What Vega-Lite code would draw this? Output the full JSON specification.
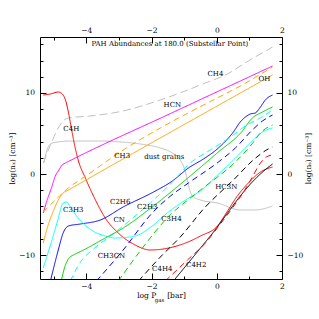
{
  "$schema": "https://vega.github.io/schema/vega-lite/v6.json",
  "autosize": {"type": "none"},
  "width": 242,
  "height": 242,
  "padding": {"left": 40, "top": 37, "right": 37, "bottom": 40},
  "background": "white",
  "config": {
    "view": {"stroke": "black", "strokeWidth": 1},
    "axis": {"domain": false, "grid": false, "tickColor": "black", "tickWidth": 1, "labelColor": "black", "labelFont": "DejaVu Serif", "labelFontSize": 7.5, "titleFont": "DejaVu Serif", "titleFontSize": 7.5, "titleFontWeight": "normal", "titleColor": "black", "labelFlush": false, "labelOverlap": false},
    "text": {"font": "DejaVu Serif", "fontSize": 7, "color": "black"}
  },
  "datasets": {
    "lines": [
      {"s":"CH4","x":-5.32,"y":1.36},{"s":"CH4","x":-5.1,"y":3.58},{"s":"CH4","x":-4.86,"y":5.68},{"s":"CH4","x":-4.71,"y":6.54},{"s":"CH4","x":-4.55,"y":6.91},{"s":"CH4","x":-3.88,"y":7.16},{"s":"CH4","x":-2.87,"y":7.78},{"s":"CH4","x":-1.73,"y":9.14},{"s":"CH4","x":-0.35,"y":11.23},{"s":"CH4","x":0.33,"y":12.35},{"s":"CH4","x":0.82,"y":13.58},{"s":"CH4","x":1.12,"y":14.32},{"s":"CH4","x":1.4,"y":14.94},{"s":"CH4","x":1.71,"y":15.68},
      {"s":"dust grains","x":-5.3,"y":1.36},{"s":"dust grains","x":-5.17,"y":3.33},{"s":"dust grains","x":-5.04,"y":3.83},{"s":"dust grains","x":-4.49,"y":4.07},{"s":"dust grains","x":-3.57,"y":4.07},{"s":"dust grains","x":-2.93,"y":3.95},{"s":"dust grains","x":-2.34,"y":3.7},{"s":"dust grains","x":-1.73,"y":3.21},{"s":"dust grains","x":-1.36,"y":2.59},{"s":"dust grains","x":-1.12,"y":1.73},{"s":"dust grains","x":-0.96,"y":0.25},{"s":"dust grains","x":-0.87,"y":-1.36},{"s":"dust grains","x":-0.75,"y":-2.72},{"s":"dust grains","x":-0.5,"y":-3.21},{"s":"dust grains","x":0.02,"y":-3.58},{"s":"dust grains","x":0.72,"y":-4.44},{"s":"dust grains","x":1.18,"y":-4.44},{"s":"dust grains","x":1.71,"y":-3.95},
      {"s":"C4H","x":-5.32,"y":9.75},{"s":"C4H","x":-5.1,"y":9.88},{"s":"C4H","x":-4.86,"y":10.12},{"s":"C4H","x":-4.74,"y":9.88},{"s":"C4H","x":-4.64,"y":9.14},{"s":"C4H","x":-4.55,"y":7.65},{"s":"C4H","x":-4.46,"y":5.68},{"s":"C4H","x":-4.34,"y":3.21},{"s":"C4H","x":-4.25,"y":1.73},{"s":"C4H","x":-4.03,"y":-0.49},{"s":"C4H","x":-3.72,"y":-3.21},{"s":"C4H","x":-3.42,"y":-5.43},{"s":"C4H","x":-3.02,"y":-7.28},{"s":"C4H","x":-2.5,"y":-8.77},{"s":"C4H","x":-2.04,"y":-9.38},{"s":"C4H","x":-1.48,"y":-9.14},{"s":"C4H","x":-0.81,"y":-8.27},{"s":"C4H","x":-0.5,"y":-7.65},{"s":"C4H","x":0.02,"y":-6.42},{"s":"C4H","x":0.33,"y":-4.57},{"s":"C4H","x":0.63,"y":-2.72},{"s":"C4H","x":1.03,"y":-0.86},{"s":"C4H","x":1.34,"y":0.25},{"s":"C4H","x":1.71,"y":0.86},
      {"s":"HCN","x":-5.32,"y":-4.81},{"s":"HCN","x":-5.2,"y":-3.21},{"s":"HCN","x":-5.07,"y":-1.73},{"s":"HCN","x":-4.95,"y":-0.25},{"s":"HCN","x":-4.86,"y":0.37},{"s":"HCN","x":-4.74,"y":1.11},{"s":"HCN","x":-4.64,"y":1.36},{"s":"HCN","x":-4.46,"y":1.73},{"s":"HCN","x":-1.4,"y":7.5},{"s":"HCN","x":1.71,"y":13.33},
      {"s":"CH3","x":-5.32,"y":-8.52},{"s":"CH3","x":-5.17,"y":-6.3},{"s":"CH3","x":-5.01,"y":-4.57},{"s":"CH3","x":-4.86,"y":-3.21},{"s":"CH3","x":-4.71,"y":-2.35},{"s":"CH3","x":-4.55,"y":-1.98},{"s":"CH3","x":-1.4,"y":5.2},{"s":"CH3","x":1.71,"y":12.22},
      {"s":"OH","x":-5.32,"y":-4.69},{"s":"OH","x":-4.95,"y":-3.21},{"s":"OH","x":-4.55,"y":-1.73},{"s":"OH","x":-3.97,"y":-0.12},{"s":"OH","x":-2.96,"y":2.72},{"s":"OH","x":-1.73,"y":5.68},{"s":"OH","x":-0.35,"y":8.64},{"s":"OH","x":0.72,"y":10.86},{"s":"OH","x":1.71,"y":13.21},
      {"s":"C2H6","x":-5.1,"y":-13.21},{"s":"C2H6","x":-4.86,"y":-9.38},{"s":"C2H6","x":-4.71,"y":-7.28},{"s":"C2H6","x":-4.55,"y":-6.42},{"s":"C2H6","x":-4.18,"y":-6.17},{"s":"C2H6","x":-3.57,"y":-5.68},{"s":"C2H6","x":-2.87,"y":-4.07},{"s":"C2H6","x":-1.94,"y":-2.22},{"s":"C2H6","x":-1.36,"y":-0.86},{"s":"C2H6","x":-0.87,"y":0.74},{"s":"C2H6","x":-0.41,"y":1.85},{"s":"C2H6","x":0.05,"y":3.21},{"s":"C2H6","x":0.51,"y":5.19},{"s":"C2H6","x":0.72,"y":6.42},{"s":"C2H6","x":0.88,"y":7.04},{"s":"C2H6","x":1.03,"y":7.41},{"s":"C2H6","x":1.18,"y":7.53},{"s":"C2H6","x":1.34,"y":8.27},{"s":"C2H6","x":1.49,"y":9.14},{"s":"C2H6","x":1.71,"y":9.75},
      {"s":"CH3CN","x":-3.69,"y":-13.21},{"s":"CH3CN","x":-2.87,"y":-9.38},{"s":"CH3CN","x":-1.98,"y":-4.81},{"s":"CH3CN","x":-1.42,"y":-2.72},{"s":"CH3CN","x":-0.87,"y":-1.11},{"s":"CH3CN","x":0.05,"y":1.48},{"s":"CH3CN","x":0.57,"y":3.21},{"s":"CH3CN","x":1.09,"y":5.43},{"s":"CH3CN","x":1.4,"y":6.54},{"s":"CH3CN","x":1.71,"y":7.28},
      {"s":"C3H3","x":-5.32,"y":-11.6},{"s":"C3H3","x":-5.1,"y":-8.77},{"s":"C3H3","x":-4.89,"y":-5.93},{"s":"C3H3","x":-4.71,"y":-3.58},{"s":"C3H3","x":-4.61,"y":-3.46},{"s":"C3H3","x":-4.49,"y":-4.07},{"s":"C3H3","x":-4.25,"y":-5.43},{"s":"C3H3","x":-3.85,"y":-6.91},{"s":"C3H3","x":-3.42,"y":-7.65},{"s":"C3H3","x":-3.11,"y":-7.9},{"s":"C3H3","x":-2.5,"y":-7.65},{"s":"C3H3","x":-1.98,"y":-6.42},{"s":"C3H3","x":-1.48,"y":-4.69},{"s":"C3H3","x":-0.81,"y":-2.84},{"s":"C3H3","x":-0.5,"y":-2.1},{"s":"C3H3","x":-0.04,"y":-0.37},{"s":"C3H3","x":0.51,"y":1.73},{"s":"C3H3","x":1.03,"y":3.83},{"s":"C3H3","x":1.4,"y":5.19},{"s":"C3H3","x":1.71,"y":5.68},
      {"s":"CN","x":-4.49,"y":-13.21},{"s":"CN","x":-4.18,"y":-10.86},{"s":"CN","x":-3.82,"y":-9.38},{"s":"CN","x":-3.26,"y":-7.65},{"s":"CN","x":-2.65,"y":-5.68},{"s":"CN","x":-2.04,"y":-3.58},{"s":"CN","x":-1.42,"y":-1.23},{"s":"CN","x":-0.81,"y":1.36},{"s":"CN","x":-0.2,"y":2.96},{"s":"CN","x":0.42,"y":4.57},{"s":"CN","x":0.88,"y":5.93},{"s":"CN","x":1.28,"y":6.79},{"s":"CN","x":1.71,"y":7.9},
      {"s":"C2H3","x":-4.77,"y":-13.21},{"s":"C2H3","x":-4.64,"y":-11.23},{"s":"C2H3","x":-4.55,"y":-10.49},{"s":"C2H3","x":-4.34,"y":-9.88},{"s":"C2H3","x":-4.15,"y":-9.51},{"s":"C2H3","x":-3.42,"y":-7.9},{"s":"C2H3","x":-2.87,"y":-6.67},{"s":"C2H3","x":-1.98,"y":-4.07},{"s":"C2H3","x":-0.96,"y":-0.74},{"s":"C2H3","x":0.05,"y":2.72},{"s":"C2H3","x":0.76,"y":5.19},{"s":"C2H3","x":1.09,"y":6.91},{"s":"C2H3","x":1.4,"y":7.65},{"s":"C2H3","x":1.71,"y":8.27},
      {"s":"C3H4","x":-3.02,"y":-13.21},{"s":"C3H4","x":-2.28,"y":-9.14},{"s":"C3H4","x":-1.58,"y":-5.68},{"s":"C3H4","x":-0.5,"y":-1.98},{"s":"C3H4","x":0.57,"y":1.48},{"s":"C3H4","x":1.03,"y":3.46},{"s":"C3H4","x":1.4,"y":5.31},{"s":"C3H4","x":1.71,"y":6.05},
      {"s":"C4H4","x":-2.4,"y":-13.21},{"s":"C4H4","x":-1.73,"y":-10.25},{"s":"C4H4","x":-1.12,"y":-7.78},{"s":"C4H4","x":-0.35,"y":-4.07},{"s":"C4H4","x":0.02,"y":-2.59},{"s":"C4H4","x":0.51,"y":-0.74},{"s":"C4H4","x":1.12,"y":1.73},{"s":"C4H4","x":1.58,"y":3.09},{"s":"C4H4","x":1.71,"y":3.33},
      {"s":"C4H2","x":-1.33,"y":-13.21},{"s":"C4H2","x":-0.5,"y":-9.14},{"s":"C4H2","x":-0.1,"y":-7.16},{"s":"C4H2","x":0.33,"y":-4.81},{"s":"C4H2","x":0.72,"y":-2.72},{"s":"C4H2","x":1.12,"y":-0.86},{"s":"C4H2","x":1.55,"y":0.74},{"s":"C4H2","x":1.71,"y":1.23},
      {"s":"HC3N","x":-1.58,"y":-13.21},{"s":"HC3N","x":-0.9,"y":-10.62},{"s":"HC3N","x":-0.35,"y":-8.52},{"s":"HC3N","x":0.11,"y":-6.17},{"s":"HC3N","x":0.48,"y":-4.2},{"s":"HC3N","x":0.82,"y":-2.22},{"s":"HC3N","x":1.09,"y":-0.37},{"s":"HC3N","x":1.34,"y":1.36},{"s":"HC3N","x":1.52,"y":2.1},{"s":"HC3N","x":1.71,"y":2.35}
    ],
    "labels": [
      {"t":"PAH Abundances at 180.0 (Substellar Point)","x":-1.44,"y":16.1},
      {"t":"CH4","x":-0.04,"y":12.35},
      {"t":"OH","x":1.46,"y":11.73},
      {"t":"HCN","x":-1.36,"y":8.52},
      {"t":"C4H","x":-4.46,"y":5.56},
      {"t":"CH3","x":-2.9,"y":2.22},
      {"t":"dust grains","x":-1.61,"y":2.1},
      {"t":"C3H3","x":-4.4,"y":-4.44},
      {"t":"C2H6","x":-2.96,"y":-3.46},
      {"t":"CN","x":-2.99,"y":-5.68},
      {"t":"C2H3","x":-2.13,"y":-4.07},
      {"t":"C3H4","x":-1.39,"y":-5.56},
      {"t":"CH3CN","x":-3.23,"y":-10.12},
      {"t":"C4H4","x":-1.67,"y":-11.73},
      {"t":"C4H2","x":-0.63,"y":-11.23},
      {"t":"HC3N","x":0.29,"y":-1.6}
    ],
    "xt": [
      {"t":"log P","x":-2.44,"y":-15.06,"r":"main"},
      {"t":"gas","x":-1.9,"y":-15.5,"r":"sub"},
      {"t":"[bar]","x":-1.52,"y":-15.06,"r":"main"}
    ]
  },
  "layer": [
    {
      "data": {"name": "lines"},
      "mark": {"type": "line", "clip": true, "strokeWidth": 1, "interpolate": "monotone"},
      "encoding": {
        "x": {"field": "x", "type": "quantitative", "scale": {"domain": [-5.42, 2.0], "nice": false, "zero": false},
          "axis": {"orient": "bottom", "title": null, "values": [-5,-4.5,-4,-3.5,-3,-2.5,-2,-1.5,-1,-0.5,0,0.5,1,1.5,2], "format": "d", "labelExpr": "datum.value % 2 === 0 ? datum.label : ''", "tickSize": {"condition": {"test": "datum.value % 2 === 0", "value": -6}, "value": -3}, "labelPadding": 9, "labelColor": "black", "tickColor": "black"}},
        "y": {"field": "y", "type": "quantitative", "scale": {"domain": [-12.96, 16.91], "nice": false, "zero": false},
          "axis": {"orient": "left", "title": "log(nₓ) [cm⁻³]", "titleAngle": 270, "titleX": -28, "titleY": 121, "titleAlign": "center", "titleBaseline": "middle", "values": [-12,-10,-8,-6,-4,-2,0,2,4,6,8,10,12,14,16], "format": "d", "labelExpr": "datum.value % 10 === 0 ? datum.label : ''", "tickSize": {"condition": {"test": "datum.value % 10 === 0", "value": -6}, "value": -3}, "labelPadding": 11.5, "labelColor": "black", "tickColor": "black", "titleColor": "black"}},
        "color": {"field": "s", "type": "nominal", "legend": null, "scale": {
          "domain": ["CH4","dust grains","C4H","HCN","CH3","OH","C2H6","CH3CN","C3H3","CN","C2H3","C3H4","C4H4","C4H2","HC3N"],
          "range": ["#c0c0c0","#c0c0c0","#ff0000","#ff00ff","#ffa500","#ffa500","#0000ff","#0000ff","#00ffff","#00ffff","#00d000","#00d000","#000000","#000000","#ff0000"]}},
        "strokeDash": {"field": "s", "type": "nominal", "legend": null, "scale": {
          "domain": ["CH4","dust grains","C4H","HCN","CH3","OH","C2H6","CH3CN","C3H3","CN","C2H3","C3H4","C4H4","C4H2","HC3N"],
          "range": [[8,4],[1,0],[1,0],[1,0],[1,0],[6,4],[1,0],[6,4],[1,0],[6,4],[1,0],[6,4],[6,4],[1,0],[6,4]]}}
      }
    },
    {
      "data": {"name": "labels"},
      "mark": {"type": "text", "align": "center", "baseline": "middle", "color": "black"},
      "encoding": {
        "x": {"field": "x", "type": "quantitative", "scale": {"domain": [-5.42, 2.0], "nice": false, "zero": false},
          "axis": {"orient": "top", "title": null, "values": [-5,-4.5,-4,-3.5,-3,-2.5,-2,-1.5,-1,-0.5,0,0.5,1,1.5,2], "format": "d", "labelExpr": "datum.value % 2 === 0 ? datum.label : ''", "tickSize": {"condition": {"test": "datum.value % 2 === 0", "value": -6}, "value": -3}, "labelPadding": 9, "labelColor": "black", "tickColor": "black"}},
        "y": {"field": "y", "type": "quantitative", "scale": {"domain": [-12.96, 16.91], "nice": false, "zero": false},
          "axis": {"orient": "right", "title": "log(nₛ) [cm⁻³]", "titleAngle": 270, "titleX": 26, "titleY": 121, "titleAlign": "center", "titleBaseline": "middle", "values": [-12,-10,-8,-6,-4,-2,0,2,4,6,8,10,12,14,16], "format": "d", "labelExpr": "datum.value % 10 === 0 ? datum.label : ''", "tickSize": {"condition": {"test": "datum.value % 10 === 0", "value": -6}, "value": -3}, "labelPadding": 11, "labelColor": "black", "tickColor": "black", "titleColor": "black"}},
        "text": {"field": "t"}
      }
    },
    {
      "data": {"name": "xt"},
      "mark": {"type": "text", "align": "left", "baseline": "middle", "color": "black"},
      "encoding": {
        "x": {"field": "x", "type": "quantitative", "scale": {"domain": [-5.42, 2.0], "nice": false, "zero": false}, "axis": null},
        "y": {"field": "y", "type": "quantitative", "scale": {"domain": [-12.96, 16.91], "nice": false, "zero": false}, "axis": null},
        "size": {"field": "r", "type": "nominal", "legend": null, "scale": {"domain": ["main","sub"], "range": [7.5, 5.5]}},
        "text": {"field": "t"}
      }
    }
  ],
  "resolve": {"axis": {"x": "independent", "y": "independent"}}
}
